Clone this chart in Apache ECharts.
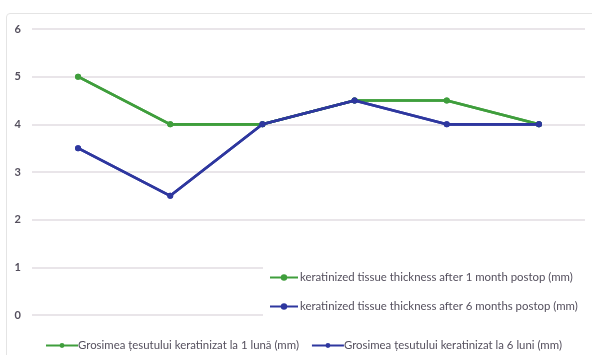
<!DOCTYPE html>
<html>
<head>
<meta charset="utf-8">
<script src="https://cdn.jsdelivr.net/npm/echarts@6/dist/echarts.min.js"></script>
<style>
  html, body { margin: 0; padding: 0; background: #fff; }
  #chart { width: 592px; height: 355px; position: relative; }
  #frame { position: absolute; left: 6px; top: 13px; width: 600px; height: 360px;
           border: 1px solid #e4e4e4; border-radius: 4px; pointer-events: none; }
</style>
</head>
<body>
<div id="chart"></div>
<script>
// Measurement points (six cases)
const categories = ['1', '2', '3', '4', '5', '6'];
const oneMonth = [5, 4, 4, 4.5, 4.5, 4];
const sixMonths = [3.5, 2.5, 4, 4.5, 4, 4];

const namesRo = ['Grosimea țesutului keratinizat la 1 lună (mm)', 'Grosimea țesutului keratinizat la 6 luni (mm)'];
const namesEn = ['keratinized tissue thickness after 1 month postop (mm)', 'keratinized tissue thickness after 6 months postop (mm)'];
const yTicks = [0, 1, 2, 3, 4, 5, 6];

const GREEN = '#3f9e3c';
const BLUE = '#2e379f';
const TEXT = '#55505e';
const FONT = 'Lato, "Open Sans", sans-serif';

function lineSeries(name, data, color, z) {
  return {
    name: name,
    type: 'line',
    data: data,
    z: z,
    symbol: 'circle',
    symbolSize: 6,
    lineStyle: { color: color, width: 2.6 },
    itemStyle: { color: color },
    emphasis: { disabled: true },
    animation: false
  };
}

const chart = echarts.init(document.getElementById('chart'), null, { renderer: 'canvas' });
chart.setOption({
  backgroundColor: '#fff',
  animation: false,
  grid: { left: 32, right: 7, top: 29, bottom: 40, containLabel: false },
  xAxis: {
    type: 'category',
    data: categories,
    boundaryGap: true,
    axisLine: { show: false },
    axisTick: { show: false },
    axisLabel: { show: false },
    splitLine: { show: false }
  },
  yAxis: {
    type: 'value',
    min: yTicks[0],
    max: yTicks[yTicks.length - 1],
    interval: 1,
    axisLine: { show: false },
    axisTick: { show: false },
    axisLabel: { color: TEXT, fontFamily: FONT, fontSize: 11, fontWeight: 'bold', margin: 11 },
    splitLine: { lineStyle: { color: '#e2dde2', width: 1.5 } }
  },
  legend: [
    {
      data: namesEn,
      orient: 'vertical',
      left: 263,
      top: 266,
      width: 328,
      padding: [6, 10, 6, 6],
      backgroundColor: '#fff',
      itemWidth: 28,
      itemHeight: 8,
      itemGap: 18,
      z: 10,
      textStyle: { color: TEXT, fontFamily: FONT, fontSize: 11.4, padding: [0, 0, 0, -3] }
    },
    {
      data: namesRo,
      orient: 'horizontal',
      left: 40,
      top: 335,
      itemWidth: 32,
      itemHeight: 6,
      itemGap: 12,
      textStyle: { color: TEXT, fontFamily: FONT, fontSize: 11.4, padding: [0, 0, 0, -5] }
    }
  ],
  series: [
    lineSeries(namesRo[0], oneMonth, GREEN, 2),
    lineSeries(namesRo[1], sixMonths, BLUE, 3),
    lineSeries(namesEn[0], oneMonth, GREEN, 2),
    lineSeries(namesEn[1], sixMonths, BLUE, 3)
  ]
});
</script>
<div id="frame"></div>
</body>
</html>
